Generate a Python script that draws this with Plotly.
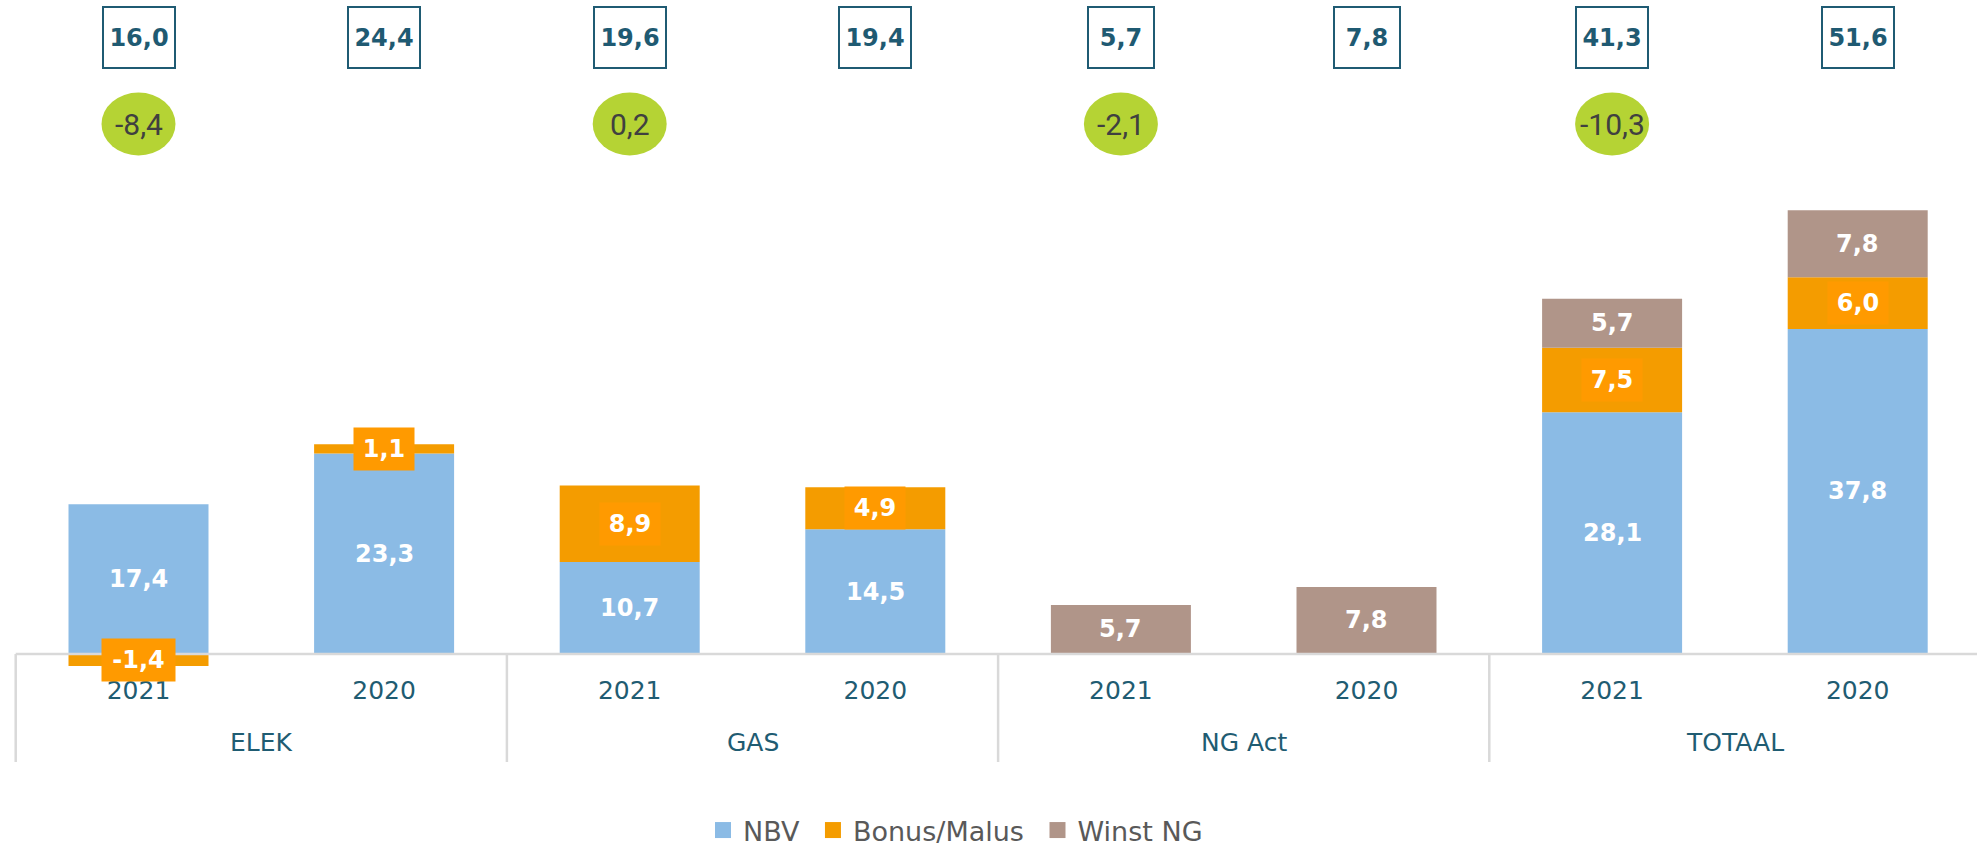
import plotly.graph_objects as go

# ---------------- data ----------------
groups = ["ELEK", "GAS", "NG Act", "TOTAAL"]
years = ["2021", "2020", "2021", "2020", "2021", "2020", "2021", "2020"]
nbv = [17.4, 23.3, 10.7, 14.5, None, None, 28.1, 37.8]
bonus_malus = [-1.4, 1.1, 8.9, 4.9, None, None, 7.5, 6.0]
winst_ng = [None, None, None, None, 5.7, 7.8, 5.7, 7.8]
totals = [16.0, 24.4, 19.6, 19.4, 5.7, 7.8, 41.3, 51.6]
deltas = [-8.4, 0.2, -2.1, -10.3]          # shown above the 2021 bar of each group

NB = "\u00a0"
series = [("NBV", nbv, "#8BBBE5", NB * 1),
          ("Bonus/Malus", bonus_malus, "#F49C00", NB * 1),
          ("Winst NG", winst_ng, "#B09589", "")]

# ---------------- layout constants ----------------
W, H = 1977, 850
plot_top, plot_bottom = 0, 668
zero_px = 654
px_per_unit = 8.6
ymin = -(plot_bottom - zero_px) / px_per_unit
ymax = (zero_px - plot_top) / px_per_unit
step_px = 245.6
left_px = 5
first_center = 138.5
xmin = -(first_center - left_px) / step_px
xmax = xmin + (W - left_px) / step_px
ph = plot_bottom - plot_top


def py(px):
    """pixel row -> paper y"""
    return (plot_bottom - px) / ph


def fmt(v):
    return f"{v:.1f}".replace(".", ",")


xs = list(range(len(years)))
fig = go.Figure()
for name, vals, col, pad in series:
    fig.add_trace(go.Bar(x=xs, y=vals, name=name, legendgroup=name, showlegend=False,
                         marker=dict(color=col, line=dict(width=0)), hoverinfo="skip"))
# legend entries (bigger square keys, like the original)
for name, vals, col, pad in series:
    fig.add_trace(go.Scatter(x=[None], y=[None], mode="markers", name=name + pad, legendgroup=name,
                             marker=dict(symbol="square", size=16, color=col, line=dict(width=0)),
                             hoverinfo="skip"))

annotations = []
shapes = []

# labels in the bar segments
pos_base = [0.0] * len(xs)
neg_base = [0.0] * len(xs)
label_font = dict(family="DejaVu Sans", size=24, color="white", weight="bold")
for name, vals, col, _ in series:
    for i, v in enumerate(vals):
        if v is None:
            continue
        if v >= 0:
            mid = pos_base[i] + v / 2
            pos_base[i] += v
        else:
            mid = neg_base[i] + v / 2
            neg_base[i] += v
        t = fmt(v)
        a = dict(x=i, y=mid, xref="x", yref="y", text=t, showarrow=False, font=label_font,
                 xanchor="center", yanchor="middle")
        if name == "Bonus/Malus":
            a.update(bgcolor="#FF9A00", borderpad=7, width=13 * len(t) + 7, height=28)
        annotations.append(a)

# total boxes on top
for i, v in enumerate(totals):
    t = fmt(v)
    annotations.append(dict(x=i, y=py(38), xref="x", yref="paper", text=t, showarrow=False,
                            xanchor="center", yanchor="middle",
                            font=dict(family="DejaVu Sans", size=24, color="#1F5A72", weight="bold"),
                            bordercolor="#1F5B73", borderwidth=2, borderpad=5,
                            width=6 * len(t) + 36, height=49, bgcolor="white"))

# green difference circles
for g, d in enumerate(deltas):
    xi = 2 * g
    shapes.append(dict(type="circle", xref="x", yref="paper", xsizemode="pixel", ysizemode="pixel",
                       xanchor=xi, yanchor=py(124), x0=-37, x1=37, y0=-31.5, y1=31.5,
                       fillcolor="#B5D334", line=dict(width=0), layer="above"))
    annotations.append(dict(x=xi, y=py(124), xref="x", yref="paper", text=fmt(d), showarrow=False,
                            xanchor="center", yanchor="middle",
                            font=dict(family="Roboto", size=30, color="#404040")))

# group labels
for g, name in enumerate(groups):
    annotations.append(dict(x=2 * g + 0.5, y=py(743), xref="x", yref="paper", text=name,
                            showarrow=False, xanchor="center", yanchor="middle",
                            font=dict(family="DejaVu Sans", size=25, color="#1F5C72")))

# baseline and group separators
zero_frac = (0 - ymin) / (ymax - ymin)
shapes.append(dict(type="line", xref="x", yref="y", x0=-0.5, x1=xmax, y0=0, y1=0,
                   line=dict(color="#D9D9D9", width=2.5), layer="above"))
for g in range(len(groups)):
    xb = 2 * g - 0.5
    shapes.append(dict(type="line", xref="x", yref="paper", x0=xb, x1=xb, y0=zero_frac, y1=py(762),
                       line=dict(color="#D9D9D9", width=2.5), layer="above"))

fig.update_layout(
    width=W, height=H,
    margin=dict(l=left_px, r=0, t=plot_top, b=H - plot_bottom, pad=0, autoexpand=False),
    barmode="relative", bargap=0.43,
    plot_bgcolor="white", paper_bgcolor="white",
    separators=",.",
    showlegend=True,
    legend=dict(orientation="h", x=(703 - left_px) / (W - left_px), xanchor="left",
                y=py(855), yanchor="bottom",
                font=dict(family="DejaVu Sans", size=27, color="#595959"),
                traceorder="normal", bgcolor="rgba(0,0,0,0)"),
    xaxis=dict(range=[xmin, xmax], tickvals=xs, ticktext=years, showgrid=False, zeroline=False,
               showline=False, ticks="", ticklabelstandoff=5,
               tickfont=dict(family="DejaVu Sans", size=25, color="#1F5C72"),
               fixedrange=True),
    yaxis=dict(range=[ymin, ymax], visible=False, showgrid=False, zeroline=False, fixedrange=True),
    annotations=annotations,
    shapes=shapes,
)

fig.write_html("out.html")
